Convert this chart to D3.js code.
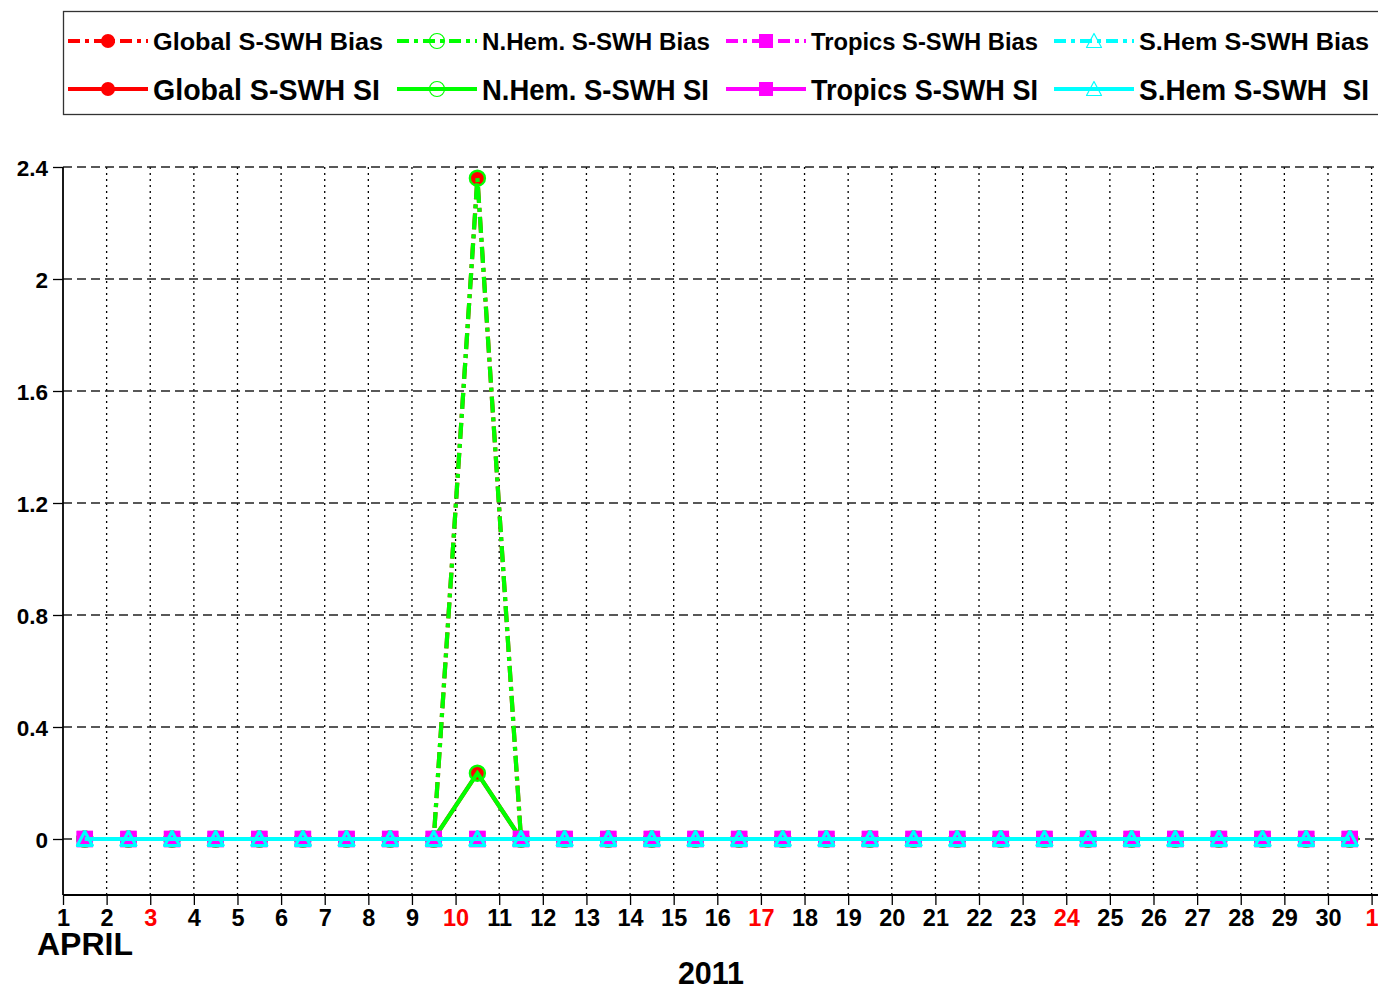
<!DOCTYPE html>
<html>
<head>
<meta charset="utf-8">
<script src="https://cdn.jsdelivr.net/npm/d3@7"></script>
<style>
  html, body { margin: 0; padding: 0; background: #fff; }
  svg { display: block; }
  text { font-family: "Liberation Sans", Arial, Helvetica, sans-serif; font-weight: bold; }
</style>
</head>
<body>
<svg id="chart" width="1378" height="989"></svg>
<script>
// Daily mid-day positions (April 2011), one value per day
const dayPositions = [1.5, 2.5, 3.5, 4.5, 5.5, 6.5, 7.5, 8.5, 9.5, 10.5,
                      11.5, 12.5, 13.5, 14.5, 15.5, 16.5, 17.5, 18.5, 19.5, 20.5,
                      21.5, 22.5, 23.5, 24.5, 25.5, 26.5, 27.5, 28.5, 29.5, 30.5];

const globalBias  = [0, 0, 0, 0, 0, 0, 0, 0, 0, 2.36, 0, 0, 0, 0, 0, 0, 0, 0, 0, 0, 0, 0, 0, 0, 0, 0, 0, 0, 0, 0];
const globalSI    = [0, 0, 0, 0, 0, 0, 0, 0, 0, 0.235, 0, 0, 0, 0, 0, 0, 0, 0, 0, 0, 0, 0, 0, 0, 0, 0, 0, 0, 0, 0];
const nhemBias    = [0, 0, 0, 0, 0, 0, 0, 0, 0, 2.36, 0, 0, 0, 0, 0, 0, 0, 0, 0, 0, 0, 0, 0, 0, 0, 0, 0, 0, 0, 0];
const nhemSI      = [0, 0, 0, 0, 0, 0, 0, 0, 0, 0.235, 0, 0, 0, 0, 0, 0, 0, 0, 0, 0, 0, 0, 0, 0, 0, 0, 0, 0, 0, 0];
const tropicsBias = [0, 0, 0, 0, 0, 0, 0, 0, 0, 0, 0, 0, 0, 0, 0, 0, 0, 0, 0, 0, 0, 0, 0, 0, 0, 0, 0, 0, 0, 0];
const tropicsSI   = [0, 0, 0, 0, 0, 0, 0, 0, 0, 0, 0, 0, 0, 0, 0, 0, 0, 0, 0, 0, 0, 0, 0, 0, 0, 0, 0, 0, 0, 0];
const shemBias    = [0, 0, 0, 0, 0, 0, 0, 0, 0, 0, 0, 0, 0, 0, 0, 0, 0, 0, 0, 0, 0, 0, 0, 0, 0, 0, 0, 0, 0, 0];
const shemSI      = [0, 0, 0, 0, 0, 0, 0, 0, 0, 0, 0, 0, 0, 0, 0, 0, 0, 0, 0, 0, 0, 0, 0, 0, 0, 0, 0, 0, 0, 0];

// X tick positions (day boundaries) and their labels; Sundays drawn in red
const dayTicks  = [1, 2, 3, 4, 5, 6, 7, 8, 9, 10, 11, 12, 13, 14, 15, 16, 17, 18, 19, 20,
                   21, 22, 23, 24, 25, 26, 27, 28, 29, 30, 31];
const dayLabels = ["1", "2", "3", "4", "5", "6", "7", "8", "9", "10", "11", "12", "13", "14", "15", "16",
                   "17", "18", "19", "20", "21", "22", "23", "24", "25", "26", "27", "28", "29", "30", "1"];
const sundayTicks = [3, 10, 17, 24, 31];

const yTicks = [0, 0.4, 0.8, 1.2, 1.6, 2, 2.4];
const yLabels = ["0", "0.4", "0.8", "1.2", "1.6", "2", "2.4"];

const monthLabel = "APRIL";
const yearLabel = "2011";

// Series definitions (drawing order matters for overlaps)
const series = [
  { name: "Global S-SWH Bias",  values: globalBias,  color: "#ff0000", dash: true,  marker: "circleFilled" },
  { name: "Global S-SWH SI",    values: globalSI,    color: "#ff0000", dash: false, marker: "circleFilled" },
  { name: "N.Hem. S-SWH Bias",  values: nhemBias,    color: "#00ff00", dash: true,  marker: "circleOpen" },
  { name: "N.Hem. S-SWH SI",    values: nhemSI,      color: "#00ff00", dash: false, marker: "circleOpen" },
  { name: "Tropics S-SWH Bias", values: tropicsBias, color: "#ff00ff", dash: true,  marker: "square" },
  { name: "Tropics S-SWH SI",   values: tropicsSI,   color: "#ff00ff", dash: false, marker: "square" },
  { name: "S.Hem S-SWH Bias",   values: shemBias,    color: "#00ffff", dash: true,  marker: "triangle" },
  { name: "S.Hem S-SWH  SI",    values: shemSI,      color: "#00ffff", dash: false, marker: "triangle" }
];

const svg = d3.select("#chart");

const plot = { left: 63, top: 167, right: 1400, bottom: 895 };
const x = d3.scaleLinear().domain([1, 31]).range([63, 1371.6]);
const y = d3.scaleLinear().domain([-0.2, 2.4]).range([plot.bottom, plot.top]);

const DASHDOT = "16,5,4,5";

// ---- grid ----
const grid = svg.append("g");
grid.selectAll("line.v").data(dayTicks.slice(1)).enter().append("line")
  .attr("x1", d => x(d)).attr("x2", d => x(d))
  .attr("y1", plot.top).attr("y2", plot.bottom)
  .attr("stroke", "#000").attr("stroke-width", 1.3)
  .attr("stroke-dasharray", "2,4");
grid.selectAll("line.h").data(yTicks).enter().append("line")
  .attr("x1", plot.left).attr("x2", plot.right)
  .attr("y1", d => y(d)).attr("y2", d => y(d))
  .attr("stroke", "#222").attr("stroke-width", 1.3)
  .attr("stroke-dasharray", "9,5");

// ---- axes ----
const yAxis = d3.axisLeft(y).tickValues(yTicks).tickSize(10).tickPadding(5)
  .tickFormat((d, i) => yLabels[i]);
const gy = svg.append("g").attr("transform", `translate(${plot.left},0)`).call(yAxis);
gy.select(".domain").attr("d", `M0,${plot.top}V${plot.bottom}`).attr("stroke", "#000").attr("stroke-width", 1.8);
gy.selectAll(".tick line").attr("stroke", "#000").attr("stroke-width", 1.3);
gy.selectAll(".tick text").attr("font-size", 22.5).attr("fill", "#000").attr("dy", "0.36em");

const xAxis = d3.axisBottom(x).tickValues(dayTicks).tickSize(10).tickPadding(4)
  .tickFormat((d, i) => dayLabels[i]);
const gx = svg.append("g").attr("transform", `translate(0,${plot.bottom})`).call(xAxis);
gx.select(".domain").attr("d", `M${plot.left},0H${plot.right}`).attr("stroke", "#000").attr("stroke-width", 1.8);
gx.selectAll(".tick line").attr("stroke", "#000").attr("stroke-width", 1.3);
gx.selectAll(".tick text").attr("font-size", 23.5)
  .attr("fill", d => sundayTicks.includes(d) ? "#ff0000" : "#000");

svg.append("text").attr("x", 37).attr("y", 955).attr("font-size", 31).attr("fill", "#000")
  .attr("textLength", 96).attr("lengthAdjust", "spacingAndGlyphs")
  .text(monthLabel);
svg.append("text").attr("x", 711).attr("y", 984).attr("font-size", 30.5).attr("text-anchor", "middle").attr("fill", "#000")
  .text(yearLabel);

// ---- markers ----
function drawMarker(g, type, color, cx, cy, thin) {
  if (type === "circleFilled") {
    g.append("circle").attr("cx", cx).attr("cy", cy).attr("r", 7).attr("fill", color);
  } else if (type === "circleOpen") {
    g.append("circle").attr("cx", cx).attr("cy", cy).attr("r", thin ? 7.5 : 7.5)
      .attr("fill", "none").attr("stroke", color).attr("stroke-width", thin ? 1.2 : 2.4);
  } else if (type === "square") {
    const h = thin ? 7 : 8.2;
    g.append("rect").attr("x", cx - h).attr("y", cy - h)
      .attr("width", 2 * h).attr("height", 2 * h).attr("fill", color);
  } else if (type === "triangle") {
    const hw = thin ? 7.5 : 7.5;
    g.append("path")
      .attr("d", `M${cx},${cy - 7.5}L${cx + hw},${cy + 6.5}L${cx - hw},${cy + 6.5}Z`)
      .attr("fill", "none").attr("stroke", color).attr("stroke-width", thin ? 1.2 : 2.8)
      .attr("stroke-linejoin", "round");
  }
}

// ---- series ----
const line = d3.line().x(d => x(d[0])).y(d => y(d[1]));
const lines = svg.append("g");
series.forEach(s => {
  const pts = dayPositions.map((p, i) => [p, s.values[i]]);
  lines.append("path").datum(pts).attr("d", line)
    .attr("fill", "none").attr("stroke", s.color).attr("stroke-width", 4.2)
    .attr("stroke-dasharray", s.dash ? DASHDOT : null);
  const mg = lines.append("g");
  pts.forEach(p => drawMarker(mg, s.marker, s.color, x(p[0]), y(p[1]), false));
});

// ---- legend ----
const legend = svg.append("g");
legend.append("rect").attr("x", 63.5).attr("y", 11.5).attr("width", 1340).attr("height", 103)
  .attr("fill", "none").attr("stroke", "#333").attr("stroke-width", 1.3);

const legendCols = [68, 397, 726, 1054];
const legendRows = [41, 89];
const legendSeries = [
  [series[0], series[2], series[4], series[6]],
  [series[1], series[3], series[5], series[7]]
];
const legendWidths = [[230, 228, 227, 230], [227, 227, 227, 230]];
const legendFont = [23.5, 30];
const legendBase = [50, 100];

legendSeries.forEach((row, r) => {
  row.forEach((s, c) => {
    const x0 = legendCols[c], yy = legendRows[r];
    legend.append("line").attr("x1", x0).attr("x2", x0 + 80).attr("y1", yy).attr("y2", yy)
      .attr("stroke", s.color).attr("stroke-width", 4)
      .attr("stroke-dasharray", s.dash ? "12,5,4,5" : null);
    drawMarker(legend, s.marker, s.color, x0 + 40, yy, true);
    legend.append("text").attr("x", x0 + 85).attr("y", legendBase[r])
      .attr("font-size", legendFont[r]).attr("fill", "#000")
      .attr("textLength", legendWidths[r][c]).attr("lengthAdjust", "spacingAndGlyphs")
      .style("white-space", "pre")
      .text(s.name);
  });
});
</script>
</body>
</html>
